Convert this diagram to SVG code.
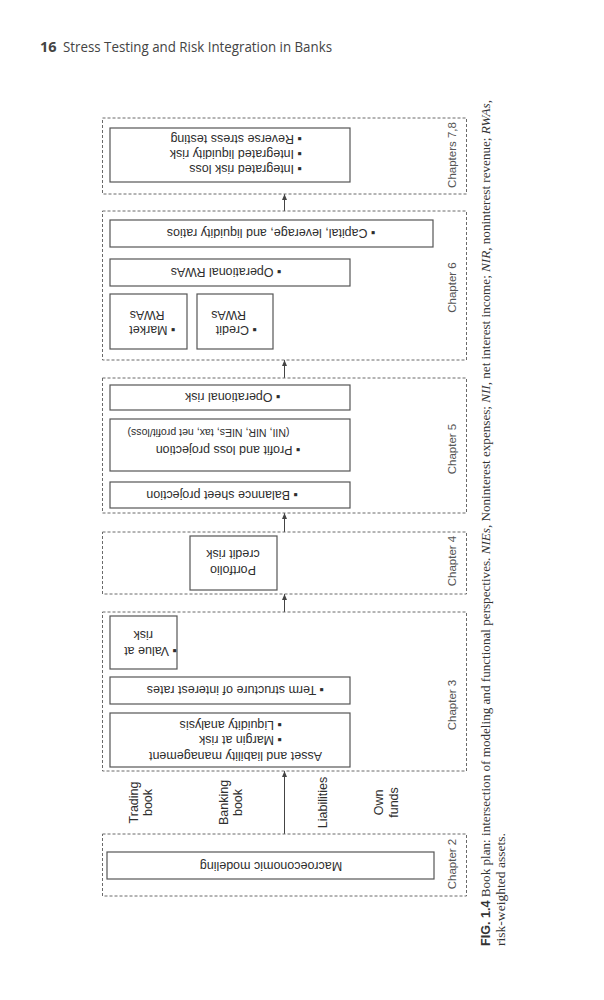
<svg xmlns="http://www.w3.org/2000/svg" width="604" height="1000" viewBox="0 0 604 1000">
<defs>
<style>
.chap{fill:none;stroke:#6a6a6a;stroke-width:1;stroke-dasharray:3,2}
.box{fill:none;stroke:#555;stroke-width:1.2}
.t{font-family:"Liberation Sans",Arial,sans-serif;font-size:12.5px;fill:#2e2e2e}
.cl{font-family:"Liberation Sans",Arial,sans-serif;font-size:11.5px;fill:#555}
.conn{stroke:#444;stroke-width:1;fill:none}
.cap{font-family:"Liberation Serif","Times New Roman",serif;font-size:12.5px;fill:#333}
</style>
<marker id="ah" markerWidth="6" markerHeight="6" refX="6" refY="3" orient="auto" markerUnits="userSpaceOnUse">
<path d="M0,0.5 L6,3 L0,5.5 z" fill="#444"/>
</marker>
</defs>
<rect width="604" height="1000" fill="#ffffff"/>

<g id="header">
<text x="40" y="52" font-family="'Open Sans',sans-serif" font-size="14.5" font-weight="bold" fill="#444">16</text>
<text x="63" y="52" font-family="'Open Sans',sans-serif" font-size="14.5" fill="#444" textLength="269" lengthAdjust="spacingAndGlyphs">Stress Testing and Risk Integration in Banks</text>
</g>

<g id="connectors">
<line class="conn" x1="284.5" y1="834" x2="284.5" y2="771" marker-end="url(#ah)"/>
<line class="conn" x1="284.5" y1="612" x2="284.5" y2="594" marker-end="url(#ah)"/>
<line class="conn" x1="284.5" y1="532" x2="284.5" y2="513" marker-end="url(#ah)"/>
<line class="conn" x1="284.5" y1="378" x2="284.5" y2="360" marker-end="url(#ah)"/>
<line class="conn" x1="284.5" y1="211" x2="284.5" y2="194" marker-end="url(#ah)"/>
</g>

<g id="chapters78">
<rect class="chap" x="102.5" y="118" width="364" height="76"/>
<text class="cl" transform="translate(456,155) rotate(-90)" text-anchor="middle">Chapters 7,8</text>
<rect class="box" x="110" y="128" width="240" height="54"/>
<text class="t" transform="translate(302,164.5) rotate(180)"><tspan x="0" y="0">▪ Integrated risk loss</tspan><tspan x="0" y="15">▪ Integrated liquidity risk</tspan><tspan x="0" y="30">▪ Reverse stress testing</tspan></text>
</g>

<g id="chapter6">
<rect class="chap" x="102.5" y="211" width="364" height="149"/>
<text class="cl" transform="translate(456,287.5) rotate(-90)" text-anchor="middle">Chapter 6</text>
<g id="capital">
<rect class="box" x="110" y="220" width="323" height="27"/>
<text class="t" transform="translate(375.5,229) rotate(180)">▪ Capital, leverage, and liquidity ratios</text>
</g>
<g id="oprwa">
<rect class="box" x="110" y="259" width="240" height="27"/>
<text class="t" transform="translate(281.5,268) rotate(180)">▪ Operational RWAs</text>
</g>
<g id="marketrwa">
<rect class="box" x="110" y="294" width="77" height="55"/>
<text class="t" transform="translate(175.5,325.5) rotate(180)"><tspan x="0" y="0">▪ Market</tspan><tspan x="11" y="15">RWAs</tspan></text>
</g>
<g id="creditrwa">
<rect class="box" x="197" y="294" width="76" height="55"/>
<text class="t" transform="translate(257,325.5) rotate(180)"><tspan x="0" y="0">▪ Credit</tspan><tspan x="11" y="15">RWAs</tspan></text>
</g>
</g>

<g id="chapter5">
<rect class="chap" x="102.5" y="378" width="364" height="135"/>
<text class="cl" transform="translate(456,449) rotate(-90)" text-anchor="middle">Chapter 5</text>
<g id="oprisk">
<rect class="box" x="110" y="385" width="240" height="25"/>
<text class="t" transform="translate(280.5,393) rotate(180)">▪ Operational risk</text>
</g>
<g id="pnl">
<rect class="box" x="110" y="419" width="240" height="52"/>
<text class="t" transform="translate(300.5,445.5) rotate(180)">▪ Profit and loss projection</text>
<text class="t" transform="translate(300.5,445.5) rotate(180)" x="11" y="17" font-size="11.5" style="font-size:11.5px" textLength="162" lengthAdjust="spacingAndGlyphs">(NII, NIR, NIEs, tax, net profit/loss)</text>
</g>
<g id="balance">
<rect class="box" x="110" y="482" width="240" height="26"/>
<text class="t" transform="translate(298,490.5) rotate(180)">▪ Balannce sheet projection</text>
</g>
</g>

<g id="chapter4">
<rect class="chap" x="102.5" y="532" width="364" height="62"/>
<text class="cl" transform="translate(456,561) rotate(-90)" text-anchor="middle">Chapter 4</text>
<rect class="box" x="190" y="536" width="87" height="54"/>
<text class="t" transform="translate(233,565.5) rotate(180)" text-anchor="middle"><tspan x="0" y="0">Portfolio</tspan><tspan x="0" y="16">credit risk</tspan></text>
</g>

<g id="chapter3">
<rect class="chap" x="102.5" y="612" width="364" height="159"/>
<text class="cl" transform="translate(456,705) rotate(-90)" text-anchor="middle">Chapter 3</text>
<g id="var">
<rect class="box" x="110" y="616" width="67" height="53"/>
<text class="t" transform="translate(177,647) rotate(180)"><tspan x="0" y="0">▪ Value at</tspan><tspan x="24" y="16">risk</tspan></text>
</g>
<g id="term">
<rect class="box" x="110" y="677" width="240" height="27"/>
<text class="t" transform="translate(324,686) rotate(180)">▪ Term structure of interest rates</text>
</g>
<g id="alm">
<rect class="box" x="110" y="713" width="240" height="54"/>
<text class="t" transform="translate(322,751.5) rotate(180)"><tspan x="0" y="0">Asset and liability management</tspan><tspan x="40" y="16">▪ Margin at risk</tspan><tspan x="40" y="31">▪ Liquidity analysis</tspan></text>
</g>
</g>

<g id="assets">
<text class="t" transform="translate(0,802.5) rotate(-90)" text-anchor="middle"><tspan x="0" y="138">Trading</tspan><tspan x="0" y="152">book</tspan></text>
<text class="t" transform="translate(0,802.5) rotate(-90)" text-anchor="middle"><tspan x="0" y="228">Banking</tspan><tspan x="0" y="242">book</tspan></text>
<text class="t" transform="translate(0,802.5) rotate(-90)" text-anchor="middle"><tspan x="0" y="327">Liabilities</tspan></text>
<text class="t" transform="translate(0,802.5) rotate(-90)" text-anchor="middle"><tspan x="0" y="383">Own</tspan><tspan x="0" y="398">funds</tspan></text>
</g>

<g id="chapter2">
<rect class="chap" x="102.5" y="834" width="364" height="62"/>
<text class="cl" transform="translate(456,864) rotate(-90)" text-anchor="middle">Chapter 2</text>
<rect class="box" x="107" y="852" width="327" height="27"/>
<text class="t" transform="translate(271,861.5) rotate(180)" text-anchor="middle">Macroeconomic modeling</text>
</g>

<g id="caption">
<text class="cap" transform="translate(490,946) rotate(-90)" textLength="846" lengthAdjust="spacingAndGlyphs"><tspan font-family="'Liberation Sans',Arial,sans-serif" font-weight="bold" font-size="12">FIG. 1.4</tspan>  Book plan: intersection of modeling and functional perspectives. <tspan font-style="italic">NIEs</tspan>, Noninterest expenses; <tspan font-style="italic">NII</tspan>, net interest income; <tspan font-style="italic">NIR</tspan>, noninterest revenue; <tspan font-style="italic">RWAs</tspan>,</text>
<text class="cap" transform="translate(505,946) rotate(-90)" textLength="113" lengthAdjust="spacingAndGlyphs">risk-weighted assets.</text>
</g>
</svg>
